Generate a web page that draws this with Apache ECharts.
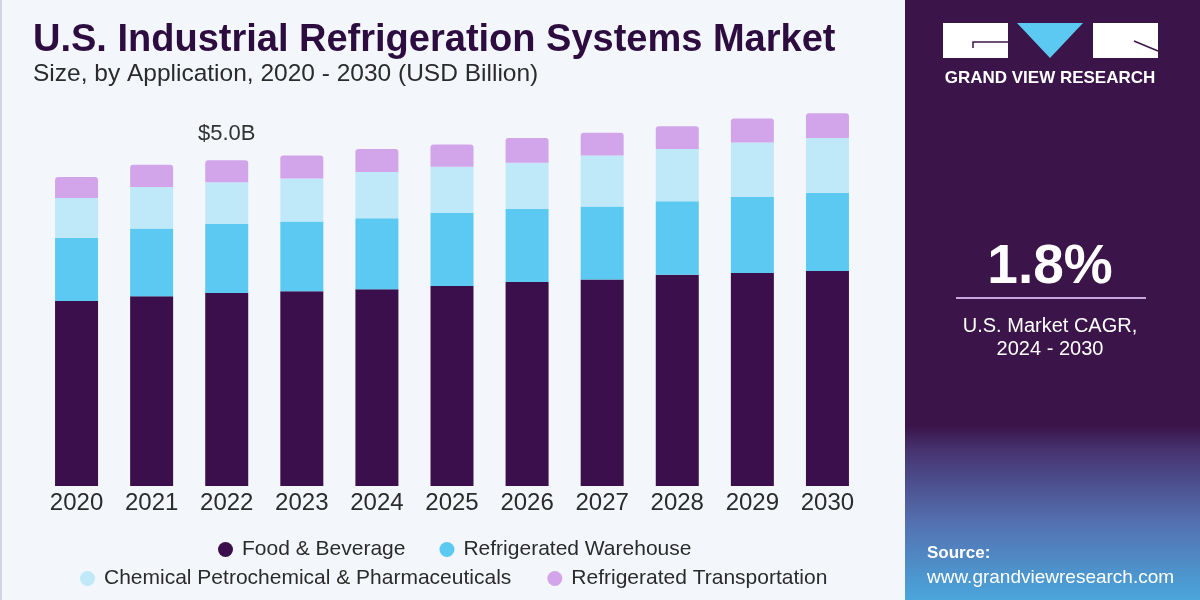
<!DOCTYPE html>
<html>
<head>
<meta charset="utf-8">
<script src="https://cdn.jsdelivr.net/npm/echarts@6/dist/echarts.min.js"></script>
<style>html,body{margin:0;padding:0;background:#f3f7fb;}#c{width:1200px;height:600px;}</style>
</head>
<body>
<div id="c"></div>
<script>
const years = ['2020','2021','2022','2023','2024','2025','2026','2027','2028','2029','2030'];
const foodBeverage = [2.84,2.91,2.96,2.99,3.02,3.07,3.13,3.17,3.24,3.27,3.30];
const refrigeratedWarehouse = [0.97,1.04,1.06,1.07,1.09,1.12,1.12,1.12,1.13,1.17,1.20];
const chemicalPharma = [0.61,0.64,0.64,0.66,0.71,0.71,0.71,0.78,0.80,0.83,0.84];
const refrigeratedTransport = [0.32,0.34,0.34,0.35,0.35,0.34,0.38,0.35,0.35,0.37,0.38];
const seriesNames = ['Food & Beverage','Refrigerated Warehouse','Chemical Petrochemical & Pharmaceuticals','Refrigerated Transportation'];
const colors = ['#3a0f4b','#5bc9f2','#bfe8f9','#d2a5ea'];
const highlightLabel = {index: 2, text: '$5.0B'};

const NARROW = '"Liberation Sans Narrow", "Arial Narrow", "Liberation Sans", Arial, sans-serif';
const SANS = '"Liberation Sans", Arial, sans-serif';

const chart = echarts.init(document.getElementById('c'));
const dataSets = [foodBeverage, refrigeratedWarehouse, chemicalPharma, refrigeratedTransport];
const series = dataSets.map((d, i) => ({
  name: seriesNames[i],
  type: 'bar',
  stack: 'total',
  barWidth: 43,
  itemStyle: {color: colors[i], borderRadius: i === 3 ? [3,3,0,0] : 0},
  data: d.map((v, j) => {
    if (i === 3 && j === highlightLabel.index) {
      return {value: v, label: {show: true, position: 'top', distance: 15, formatter: highlightLabel.text,
        fontFamily: SANS, fontSize: 22, color: '#333'}};
    }
    return v;
  })
}));

const legendText = {fontFamily: NARROW, fontSize: 21, color: '#2b2b2b', padding: [0,0,0,4]};
chart.setOption({
  backgroundColor: '#f3f7fb',
  animation: false,
  grid: {left: 39, right: 335, top: 95, bottom: 114, containLabel: false},
  xAxis: {type: 'category', data: years, axisLine: {show: false}, axisTick: {show: false},
    axisLabel: {fontFamily: NARROW, fontSize: 24, color: '#2b2b2b', margin: 5}},
  yAxis: {type: 'value', min: 0, max: 6, show: false, splitLine: {show: false}},
  legend: [
    {data: [seriesNames[0], seriesNames[1]], left: 213, top: 534, icon: 'circle', itemWidth: 15, itemHeight: 15, itemGap: 34, textStyle: legendText},
    {data: [seriesNames[2], seriesNames[3]], left: 75, top: 563, icon: 'circle', itemWidth: 15, itemHeight: 15, itemGap: 36, textStyle: legendText}
  ],
  series: series,
  graphic: [
    {type: 'rect', shape: {x: 0, y: 0, width: 2, height: 600}, style: {fill: '#d3d6de'}},
    {type: 'text', left: 33, top: 22, style: {text: 'U.S. Industrial Refrigeration Systems Market', font: 'bold 38px ' + NARROW, fill: '#2d0d40'}},
    {type: 'text', left: 33, top: 62, style: {text: 'Size, by Application, 2020 - 2030 (USD Billion)', font: '24.5px ' + NARROW, fill: '#2b2b2b'}},
    {type: 'rect', shape: {x: 905, y: 0, width: 295, height: 600},
      style: {fill: new echarts.graphic.LinearGradient(0, 0, 0, 1, [
        {offset: 0, color: '#3b1449'}, {offset: 0.71, color: '#3b1449'}, {offset: 0.75, color: '#463370'},
        {offset: 0.87, color: '#5470b0'}, {offset: 1, color: '#4aa6dc'}])}},
    {type: 'rect', shape: {x: 943, y: 23, width: 65, height: 35}, style: {fill: '#ffffff'}},
    {type: 'polyline', shape: {points: [[973,48],[973,42],[1008,42]]}, style: {stroke: '#3b1449', lineWidth: 1.5, fill: null}},
    {type: 'polygon', shape: {points: [[1017,23],[1083,23],[1050,58]]}, style: {fill: '#5bc9f2'}},
    {type: 'rect', shape: {x: 1093, y: 23, width: 65, height: 35}, style: {fill: '#ffffff'}},
    {type: 'line', shape: {x1: 1134, y1: 41, x2: 1158, y2: 51}, style: {stroke: '#3b1449', lineWidth: 1.5}},
    {type: 'text', x: 1050, y: 78, style: {text: 'GRAND VIEW RESEARCH', font: 'bold 17px ' + SANS, fill: '#ffffff', align: 'center', verticalAlign: 'middle'}},
    {type: 'text', x: 1050, y: 268, style: {text: '1.8%', font: 'bold 55px ' + SANS, fill: '#ffffff', align: 'center', verticalAlign: 'middle'}},
    {type: 'rect', shape: {x: 956, y: 297, width: 190, height: 2}, style: {fill: '#c8a6df'}},
    {type: 'text', x: 1050, y: 326, style: {text: 'U.S. Market CAGR,', font: '20px ' + NARROW, fill: '#ffffff', align: 'center', verticalAlign: 'middle'}},
    {type: 'text', x: 1050, y: 349, style: {text: '2024 - 2030', font: '20px ' + NARROW, fill: '#ffffff', align: 'center', verticalAlign: 'middle'}},
    {type: 'text', left: 927, top: 545, style: {text: 'Source:', font: 'bold 17px ' + NARROW, fill: '#ffffff'}},
    {type: 'text', left: 927, top: 568, style: {text: 'www.grandviewresearch.com', font: '19px ' + NARROW, fill: '#ffffff'}}
  ]
});
</script>
</body>
</html>
